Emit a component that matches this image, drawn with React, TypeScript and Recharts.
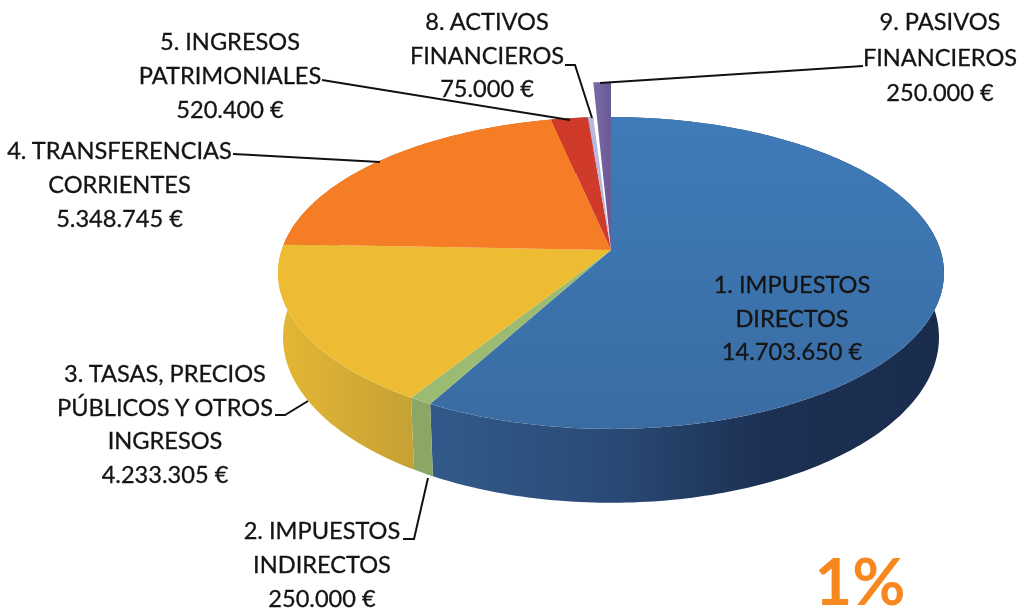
import React from "react";
import { PieChart, Pie } from "recharts";

const categories = [
  "1. IMPUESTOS DIRECTOS",
  "2. IMPUESTOS INDIRECTOS",
  "3. TASAS, PRECIOS PÚBLICOS Y OTROS INGRESOS",
  "4. TRANSFERENCIAS CORRIENTES",
  "5. INGRESOS PATRIMONIALES",
  "8. ACTIVOS FINANCIEROS",
  "9. PASIVOS FINANCIEROS",
];
const values = [14703650, 250000, 4233305, 5348745, 520400, 75000, 250000];
const amountLabels = ["14.703.650 €", "250.000 €", "4.233.305 €", "5.348.745 €", "520.400 €", "75.000 €", "250.000 €"];
const nameLines = [
  ["1. IMPUESTOS", "DIRECTOS"],
  ["2. IMPUESTOS", "INDIRECTOS"],
  ["3. TASAS, PRECIOS", "PÚBLICOS Y OTROS", "INGRESOS"],
  ["4. TRANSFERENCIAS", "CORRIENTES"],
  ["5. INGRESOS", "PATRIMONIALES"],
  ["8. ACTIVOS", "FINANCIEROS"],
  ["9. PASIVOS", "FINANCIEROS"],
];
const chartData = categories.map((name, i) => ({ name, value: values[i] }));

const topFills = ["url(#topBlue)", "#9BBB72", "#EEBC32", "#F57D26", "#CF3A2A", "#B9B7DC", "url(#topPurple)"];
const wallFills = ["url(#wallBlue)", "#8BA765", "url(#wallYellow)", "#D06A20", "#A52E22", "#9290B0", "#5B4C80"];
const lift = [0, 0, 0, 0, 0, 0, 35];

const labelX = [792, 322, 165, 119.5, 230, 487, 940];
const labelY = [293, 539, 382, 159, 50, 30, 30];
const labelStep = [33.5, 34, 33.7, 34, 34, 33.5, 35.5];
const leaders = [
  "",
  "M403 539 L414 539 L428 478",
  "M275 415 L285 415 L308 401",
  "M233 154 L380 162",
  "M322 80 L570 120",
  "M565 65 L575 65 L592 118",
  "M863 66 L600 83",
];

const K = 0.1474;
const project = (deg: number, cx: number, cy: number, r: number, up: number) => {
  const t = ((90 - deg) * Math.PI) / 180;
  const w = 1 + K * Math.cos(t);
  return {
    x: cx + (0.989 * r * Math.sin(t)) / w,
    y: cy - up - (0.458 * r * Math.cos(t)) / w,
    w,
  };
};
const arcPoints = (a: number, b: number, cx: number, cy: number, r: number, up: number) => {
  const n = Math.max(2, Math.ceil(Math.abs(a - b)));
  return Array.from({ length: n + 1 }, (_, i) => project(a + ((b - a) * i) / n, cx, cy, r, up));
};

const TopFace = (p: any) => {
  const idx = p.index as number;
  const pts = arcPoints(p.startAngle, p.endAngle, p.cx, p.cy, p.outerRadius, lift[idx]);
  const d = `M${p.cx} ${p.cy} ` + pts.map((q) => `L${q.x} ${q.y}`).join(" ") + " Z";
  return <path d={d} fill={topFills[idx]} stroke="none" />;
};

const WallFace = (p: any) => {
  const idx = p.index as number;
  if (lift[idx] > 0) return <g />;
  const pts = arcPoints(p.startAngle, p.endAngle, p.cx, p.cy, p.outerRadius, 0);
  const low = pts
    .slice()
    .reverse()
    .map((q) => ({ x: p.cx + (q.x - p.cx) * 0.985, y: q.y + 63 / q.w }));
  const d = "M" + pts.concat(low).map((q) => `${q.x} ${q.y}`).join(" L") + " Z";
  return <path d={d} fill={wallFills[idx]} stroke="none" />;
};

export default function App() {
  return (
    <div style={{ position: "absolute", left: 0, top: 0, width: 1025, height: 611, background: "#fff" }}>
      <div style={{ filter: "blur(0.5px)" }}>
        <PieChart width={1025} height={611} margin={{ top: 0, right: 0, bottom: 0, left: 0 }}>
          <defs>
            <linearGradient id="topBlue" gradientUnits="userSpaceOnUse" x1="0" y1="117" x2="0" y2="430">
              <stop offset="0" stopColor="#3F7BB9" />
              <stop offset="1" stopColor="#3A6CA2" />
            </linearGradient>
            <linearGradient id="topPurple" gradientUnits="userSpaceOnUse" x1="591" y1="0" x2="610" y2="0">
              <stop offset="0" stopColor="#7C6CA8" />
              <stop offset="1" stopColor="#6A5A96" />
            </linearGradient>
            <linearGradient id="wallBlue" gradientUnits="userSpaceOnUse" x1="436" y1="0" x2="940" y2="0">
              <stop offset="0" stopColor="#315A8A" />
              <stop offset="0.35" stopColor="#2A4A75" />
              <stop offset="0.65" stopColor="#1C3053" />
              <stop offset="1" stopColor="#1A2C4C" />
            </linearGradient>
            <linearGradient id="wallYellow" gradientUnits="userSpaceOnUse" x1="280" y1="0" x2="418" y2="0">
              <stop offset="0" stopColor="#E4B634" />
              <stop offset="1" stopColor="#C4A035" />
            </linearGradient>
          </defs>
          <Pie
            data={chartData}
            dataKey="value"
            nameKey="name"
            cx={611}
            cy={250}
            outerRadius={333}
            startAngle={90}
            endAngle={-270}
            stroke="none"
            isAnimationActive={false}
            shape={WallFace}
            inactiveShape={WallFace}
          />
          <Pie
            data={chartData}
            dataKey="value"
            nameKey="name"
            cx={611}
            cy={250}
            outerRadius={333}
            startAngle={90}
            endAngle={-270}
            stroke="none"
            isAnimationActive={false}
            shape={TopFace}
            inactiveShape={TopFace}
          />
        </PieChart>
      </div>
      <svg width={1025} height={611} style={{ position: "absolute", left: 0, top: 0, pointerEvents: "none" }}>
        <g style={{ filter: "blur(0.4px)" }}>
          {leaders.map((d, i) => (d ? <path key={i} d={d} fill="none" stroke="#111" strokeWidth={2} /> : null))}
          {nameLines.map((lines, i) =>
            [...lines, amountLabels[i]].map((line, j) => (
              <text
                key={`${i}-${j}`}
                x={labelX[i]}
                y={labelY[i] + j * labelStep[i]}
                textAnchor="middle"
                fontFamily="Lato, sans-serif"
                fontSize={23.6}
                fill="#141414"
                stroke="#141414"
                strokeWidth={0.3}
              >
                {line}
              </text>
            ))
          )}
        </g>
        <text x={860} y={605} textAnchor="middle" fontFamily="Lato, sans-serif" fontWeight={700} fontSize={65} fill="#F7871F">
          1%
        </text>
      </svg>
    </div>
  );
}
